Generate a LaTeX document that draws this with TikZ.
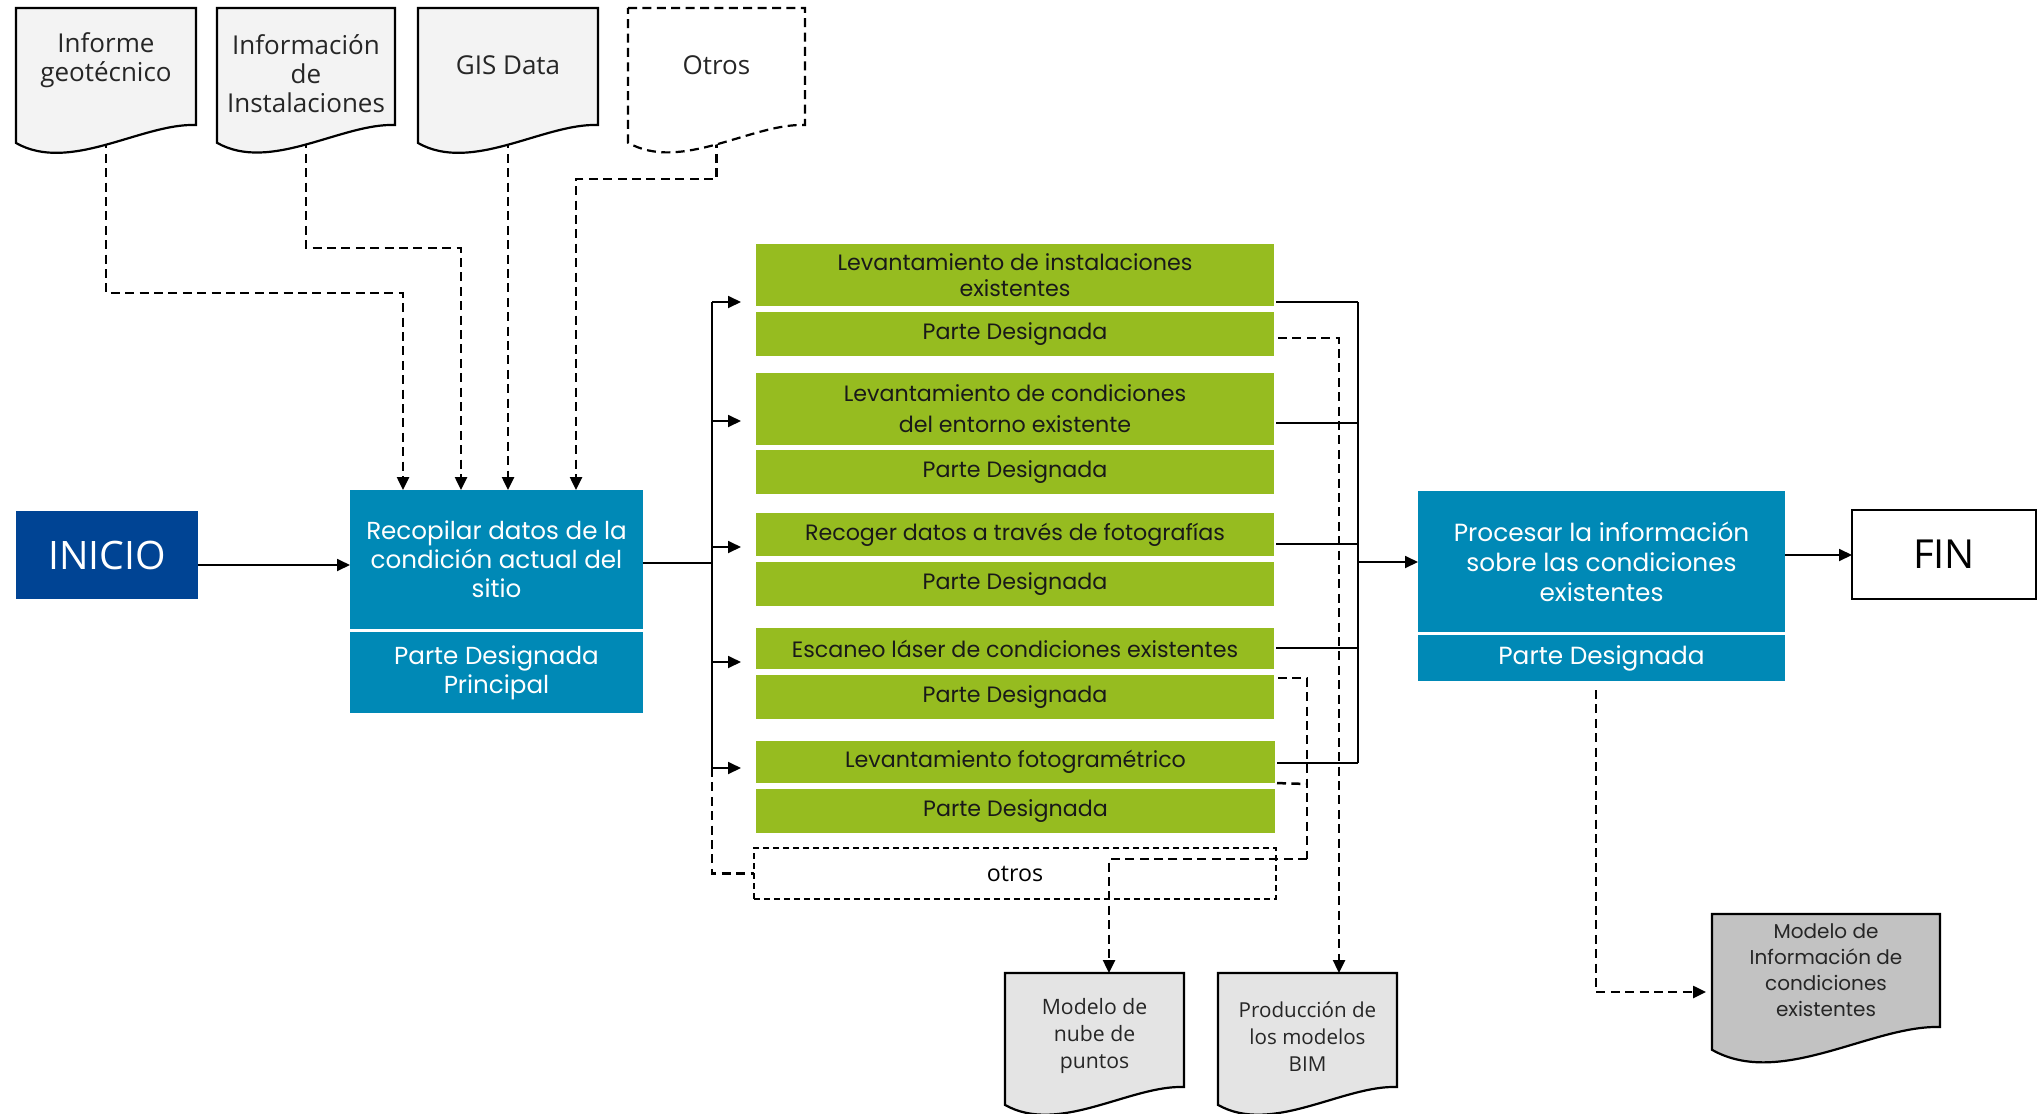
\documentclass[tikz,border=0pt]{standalone}
\usepackage{fontspec}
\setmainfont{Open Sans}
\newfontfamily\mont{Poppins}
\usetikzlibrary{arrows.meta,calc}
\definecolor{dblue}{RGB}{0,68,148}
\definecolor{tealb}{RGB}{0,137,182}
\definecolor{lgreen}{RGB}{150,188,32}
\definecolor{docl}{RGB}{243,243,243}
\definecolor{docm}{RGB}{228,228,228}
\definecolor{docd}{RGB}{194,194,194}
\pgfdeclarelayer{back}
\pgfdeclarelayer{bg}
\pgfsetlayers{back,bg,main}

\newcommand{\pxnode}[7]{%
  \pgfmathsetmacro{\pcx}{(#2+#4)/2}%
  \pgfmathsetmacro{\pcy}{(#3+#5)/2}%
  \pgfmathsetmacro{\pwd}{(#4-#2)/2}%
  \pgfmathsetmacro{\pht}{(#5-#3)/2}%
  \node[inner sep=0pt, outer sep=0pt, minimum width=\pwd pt, minimum height=\pht pt, align=center, #6] (#1) at (\pcx,\pcy) {#7};%
}
% name, x0, y0, x1, yR, shape style, text style, text, text shift (px, down)
\newcommand{\docnode}[9]{%
  \pgfmathsetmacro{\dW}{#4-#2}%
  \pgfmathsetmacro{\dPa}{#4-0.3*\dW}%
  \pgfmathsetmacro{\dPb}{#2+0.3*\dW}%
  \pgfmathsetmacro{\dYa}{#5-2}%
  \pgfmathsetmacro{\dYb}{#5+0.27*\dW}%
  \pgfmathsetmacro{\dYl}{#5+0.1*\dW}%
  \path[#6] (#2,#3) -- (#4,#3) -- (#4,#5) .. controls (\dPa,\dYa) and (\dPb,\dYb) .. (#2,\dYl) -- cycle;%
  \pxnode{#1}{#2}{#3}{#4}{#5}{}{}%
  \node[inner sep=0pt, align=center, #7] (#1-t) at ($(#1.center)+(0,#9)$) {#8};%
}

\tikzset{
  docshp/.style={draw=black, line width=1.1pt, fill=docl},
  doctxt/.style={font=\fontsize{13}{14.5}\selectfont, text=black!85},
  smalltxt/.style={font=\fontsize{10.3}{13.5}\selectfont, text=black!85},
  mitxt/.style={font=\mont\fontsize{10}{13}\selectfont, text=black!85},
  gbox/.style={fill=lgreen, text=black!90, font=\mont\fontsize{11.1}{13}\selectfont},
  bbox/.style={fill=tealb, text=white, font=\mont\fontsize{12.3}{14.5}\selectfont},
  line/.style={line width=0.9pt},
  conn/.style={line, -{Triangle[length=6.5pt,width=6pt]}},
  dline/.style={line width=1.25pt, dash pattern=on 4.5pt off 2.7pt},
  dconn/.style={dline, -{Triangle[length=6.5pt,width=6pt]}},
}

\begin{document}
\begin{tikzpicture}[x=0.5pt,y=-0.5pt]
\useasboundingbox (0,0) rectangle (2038,1113);
\clip (0,0) rectangle (2038,1113);
\begin{pgfonlayer}{back}
\fill[white] (0,0) rectangle (2038,1113);
\end{pgfonlayer}

% input documents
\docnode{docA}{16}{8}{196}{125}{docshp}{doctxt}{Informe\\geotécnico}{-6.5}
\docnode{docB}{217}{8}{395}{125}{docshp}{doctxt}{Información\\de\\Instalaciones}{7.5}
\docnode{docC}{418}{8}{598}{125}{docshp}{doctxt}{GIS Data}{-1.5}
\docnode{docD}{628}{8}{805}{125}{docshp, fill=white, dash pattern=on 4.5pt off 2.7pt}{doctxt}{Otros}{-1.5}

% output documents
\docnode{docN}{1005}{973}{1184}{1087}{docshp, fill=docm}{smalltxt, font=\fontsize{10.6}{13.5}\selectfont}{Modelo de\\nube de\\puntos}{6}
\docnode{docP}{1218}{973}{1397}{1087}{docshp, fill=docm}{smalltxt}{Producción de\\los modelos\\BIM}{7}
\docnode{docMI}{1712}{914}{1940}{1027}{docshp, fill=docd}{mitxt}{Modelo de\\Información de\\condiciones\\existentes}{0}

% main boxes
\pxnode{ini}{16}{511}{198}{599}{fill=dblue, text=white, font=\fontsize{19.6}{22}\selectfont}{INICIO}
\pxnode{rec}{350}{490}{643}{629}{bbox}{Recopilar datos de la\\condición actual del\\sitio}
\pxnode{recp}{350}{632}{643}{713}{bbox}{Parte Designada\\Principal}

\pxnode{g1}{756}{244}{1274}{306}{gbox}{Levantamiento de instalaciones\\existentes}
\pxnode{g1p}{756}{312}{1274}{356}{gbox}{Parte Designada}
\pxnode{g2}{756}{373}{1274}{445}{gbox, font=\mont\fontsize{11.1}{15.5}\selectfont}{Levantamiento de condiciones\\del entorno existente}
\pxnode{g2p}{756}{450}{1274}{494}{gbox}{Parte Designada}
\pxnode{g3}{756}{513}{1274}{556}{gbox}{Recoger datos a través de fotografías}
\pxnode{g3p}{756}{562}{1274}{606}{gbox}{Parte Designada}
\pxnode{g4}{756}{628}{1274}{669}{gbox}{Escaneo láser de condiciones existentes}
\pxnode{g4p}{756}{675}{1274}{719}{gbox}{Parte Designada}
\pxnode{g5}{756}{741}{1275}{783}{gbox}{Levantamiento fotogramétrico}
\pxnode{g5p}{756}{789}{1275}{833}{gbox}{Parte Designada}
\pxnode{otros}{754}{848}{1276}{899}{draw, line width=0.9pt, dash pattern=on 3pt off 2pt, font=\fontsize{11.6}{13}\selectfont}{otros}

\pxnode{proc}{1418}{491}{1785}{632}{bbox, font=\mont\fontsize{12.4}{15}\selectfont}{Procesar la información\\sobre las condiciones\\existentes}
\pxnode{procp}{1418}{635}{1785}{681}{bbox, font=\mont\fontsize{12.4}{15}\selectfont}{Parte Designada}
\pxnode{fin}{1852}{510}{2036}{599}{draw=black, line width=1pt, fill=white, font=\fontsize{20}{22}\selectfont}{FIN}

% coordinates
\coordinate (kA) at (403,293);
\coordinate (kB) at (461,248);
\coordinate (kD) at (576,179);
\coordinate (yi) at (0,565);
\coordinate (yo) at (712,563);
\coordinate (bt) at (712,302);
\coordinate (bb) at (712,768);
\coordinate (a1) at (712,302);
\coordinate (a2) at (712,421);
\coordinate (a3) at (712,547);
\coordinate (a4) at (712,662);
\coordinate (a5) at (712,768);
\coordinate (r1) at (1358,302);
\coordinate (r2) at (1358,423);
\coordinate (r3) at (1358,544);
\coordinate (r4) at (1358,648);
\coordinate (r5) at (1358,763);
\coordinate (rp) at (1358,562);
\coordinate (fy) at (0,555);
\coordinate (d1) at (1339,338);
\coordinate (d2) at (1307,678);
\coordinate (d3) at (1307,784);
\coordinate (d4) at (1307,859);
\coordinate (d5) at (1109,859);
\coordinate (m1) at (1596,992);

\begin{pgfonlayer}{bg}
  % inputs
  \draw[dconn] (docA.south) |- (kA) -- (kA |- rec.north);
  \draw[dconn] (docB.south) |- (kB) -- (kB |- rec.north);
  \draw[dconn] (docC.south) -- (docC.south |- rec.north);
  \draw[dconn] (docD.south) |- (kD) -- (kD |- rec.north);
  % main flow
  \draw[conn] (ini.east |- yi) -- (rec.west |- yi);
  \draw[line] (rec.east |- yo) -- (yo);
  \draw[line] (bt) -- (bb);
  \draw[conn, shorten >=7.5pt] (a1) -- (a1 -| g1.west);
  \draw[conn, shorten >=7.5pt] (a2) -- (a2 -| g2.west);
  \draw[conn, shorten >=7.5pt] (a3) -- (a3 -| g3.west);
  \draw[conn, shorten >=7.5pt] (a4) -- (a4 -| g4.west);
  \draw[conn, shorten >=7.5pt] (a5) -- (a5 -| g5.west);
  \draw[dline] (bb) |- (otros.west);
  % right bus
  \draw[line, shorten <=1pt] (g1.east |- r1) -- (r1);
  \draw[line, shorten <=1pt] (g2.east |- r2) -- (r2);
  \draw[line, shorten <=1pt] (g3.east |- r3) -- (r3);
  \draw[line, shorten <=1pt] (g4.east |- r4) -- (r4);
  \draw[line, shorten <=1pt] (g5.east |- r5) -- (r5);
  \draw[line] (r1) -- (r5);
  \draw[conn] (rp) -- (rp -| proc.west);
  \draw[conn] (proc.east |- fy) -- (fin.west |- fy);
  % dashed outputs
  \draw[dconn, shorten <=2pt] (g1p.east |- d1) -- (d1) -- (d1 |- docP.north);
  \draw[dline, shorten <=2pt] (g4p.east |- d2) -- (d2) -- (d4);
  \draw[dline, shorten <=1pt] (g5.south east) -- (d3);
  \draw[dconn] (d4) -- (d5) -- (d5 |- docN.north);
  \draw[dconn, shorten <=4.5pt, shorten >=3pt] (procp.south -| m1) -- (m1) -- (m1 -| docMI.west);
\end{pgfonlayer}
\end{tikzpicture}
\end{document}
